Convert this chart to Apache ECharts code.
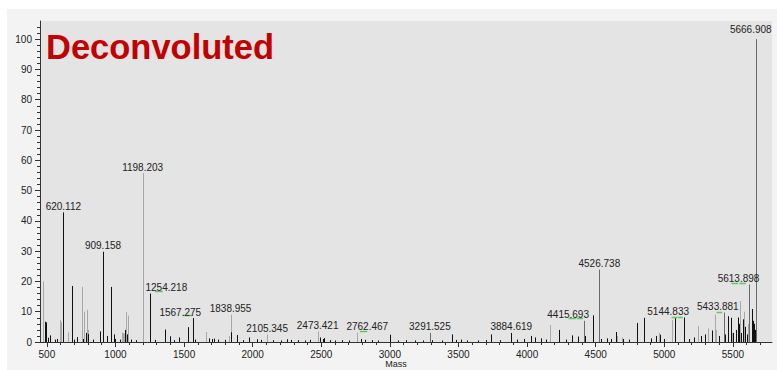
<!DOCTYPE html>
<html>
<head>
<meta charset="utf-8">
<script src="https://cdn.jsdelivr.net/npm/echarts@6/dist/echarts.min.js"></script>
<style>
html,body{margin:0;padding:0;background:#ffffff;}
#chart{width:777px;height:370px;}
</style>
</head>
<body>
<div id="chart"></div>
<script>
// ---- data ----
var titleText = 'Deconvoluted';
var xAxisName = 'Mass';
var xTickLabels = [500, 1000, 1500, 2000, 2500, 3000, 3500, 4000, 4500, 5000, 5500];
var yTickLabels = [0, 10, 20, 30, 40, 50, 60, 70, 80, 90, 100];

var blackMass = [488, 495, 510, 524, 560, 575, 620.112, 680, 700, 723, 765, 784, 798, 835, 886, 909.158, 940, 969, 990, 1000, 1030, 1071, 1086, 1110, 1150, 1254.218, 1290, 1358, 1363, 1397, 1430, 1462, 1530, 1567.275, 1580, 1680, 1700, 1720, 1750, 1800, 1841, 1883, 1930, 1972, 2030, 2060, 2150, 2210, 2250, 2280, 2330, 2380, 2420, 2490, 2510, 2520, 2560, 2600, 2650, 2700, 2790, 2820, 2870, 2910, 3000, 3060, 3120, 3180, 3240, 3310, 3380, 3450, 3480, 3520, 3560, 3640, 3700, 3734, 3800, 3884.619, 3930, 3980, 4025, 4060, 4100, 4140, 4234, 4280, 4330, 4370, 4420, 4482, 4540, 4580, 4610, 4645, 4700, 4740, 4798, 4851, 4900, 4940, 4970, 5000, 5080, 5144.833, 5180, 5220, 5270, 5300, 5349, 5400, 5440, 5463, 5485, 5500, 5520, 5536, 5545, 5560, 5572, 5590, 5600, 5620, 5636, 5645, 5651, 5660];
var blackInt  = [6.7, 6.5, 1.4, 2.2, 0.8, 1.0, 42.8, 18.5, 0.8, 1.6, 1.0, 3.0, 2.6, 0.8, 3.5, 29.8, 2.0, 18.2, 2.5, 1.0, 0.8, 4.0, 2.5, 0.8, 0.6, 16.0, 0.7, 2.0, 4.1, 1.9, 0.6, 1.5, 4.9, 7.9, 0.8, 1.2, 1.0, 1.1, 0.8, 0.7, 3.2, 2.3, 0.6, 1.5, 0.9, 0.7, 0.6, 0.5, 0.9, 0.7, 0.6, 0.5, 0.7, 1.5, 1.0, 1.3, 0.6, 0.5, 0.6, 0.5, 1.0, 0.7, 0.6, 0.5, 2.4, 0.5, 0.6, 0.5, 0.5, 0.6, 0.5, 2.5, 0.7, 0.8, 0.5, 0.5, 0.6, 2.5, 0.6, 3.0, 0.8, 1.0, 2.0, 1.5, 1.2, 0.8, 4.0, 0.8, 2.2, 1.8, 2.0, 8.8, 1.0, 1.2, 1.0, 3.3, 1.0, 0.8, 6.3, 8.0, 1.2, 2.0, 2.4, 1.0, 7.9, 8.1, 1.0, 1.5, 2.0, 2.5, 3.8, 2.0, 2.5, 8.5, 8.0, 3.0, 4.0, 8.1, 6.0, 3.0, 7.5, 5.0, 2.5, 3.5, 10.9, 7.0, 6.0, 4.0];

var grayMass = [473, 597, 603, 651, 755, 772, 791, 801, 1045, 1055, 1062, 1078, 1093, 1198.203, 1657, 1826, 1838.955, 2105.345, 2473.421, 2762.467, 4166, 4655, 4690, 4960, 5056, 5247, 5315, 5369, 5380, 5490, 5551, 5580, 5610];
var grayInt  = [20.0, 7.2, 6.5, 3.2, 18.2, 10.0, 10.6, 4.0, 3.0, 3.0, 2.8, 9.9, 8.7, 55.8, 3.3, 2.0, 9.0, 2.4, 3.5, 3.1, 5.6, 2.0, 1.5, 3.0, 7.2, 5.3, 4.5, 9.0, 4.0, 3.0, 13.5, 10.0, 6.0];

var darkMass = [3291.525, 4415.693, 4526.738, 5433.881, 5613.898, 5666.908];
var darkInt  = [3.0, 7.0, 23.9, 9.7, 19.0, 100.0];

var labelMass = [620.112, 909.158, 1198.203, 1254.218, 1567.275, 1838.955, 2105.345, 2473.421, 2762.467, 3291.525, 3884.619, 4415.693, 4526.738, 5144.833, 5433.881, 5613.898, 5666.908];

// isotope markers: [mass start, mass end, intensity]
var isoStart = [1287, 1491, 2782, 4302, 4362, 5053, 5099, 5381, 5490, 5546];
var isoEnd   = [1345, 1560, 2835, 4355, 4409, 5097, 5136, 5422, 5538, 5594];
var isoInt   = [16.8, 8.8, 3.5, 7.9, 7.9, 8.4, 8.4, 10.0, 19.5, 19.5];

// ---- build ----
var FONT = '"Liberation Sans", Arial, sans-serif';
function pairs(m, v){ return m.map(function(x,i){ return [x, v[i]]; }); }
var allMass = blackMass.concat(grayMass, darkMass);
var allInt = blackInt.concat(grayInt, darkInt);
function intensityOf(m){ return allInt[allMass.indexOf(m)]; }

// label pixel shifts (styling only)
var labelShift = {'1254.218':[16,0], '1567.275':[-13,0], '2762.467':[10,0], '4415.693':[-16,0], '5144.833':[-16,0], '5433.881':[-6,0], '5613.898':[-10,0], '5666.908':[-5,-4]};

function stickSeries(data, color){
  return {
    type:'custom', xAxisIndex:0, yAxisIndex:0, data:data, silent:true,
    renderItem:function(params, api){
      var p0 = api.coord([api.value(0), 0]);
      var p1 = api.coord([api.value(0), api.value(1)]);
      var x = Math.round(p0[0]) + 0.5;
      return {type:'line', shape:{x1:x, y1:p0[1], x2:x, y2:p1[1]}, style:{stroke:color, lineWidth:1}};
    }
  };
}

var minorX = []; for (var v = 500; v <= 5700; v += 100) minorX.push(v);
var minorY = []; for (var w = 2; w <= 104; w += 2) minorY.push(w);

var labelData = labelMass.map(function(m){ return [m, intensityOf(m)]; });
var isoData = isoStart.map(function(s,i){ return [s, isoEnd[i], isoInt[i]]; });

var chart = echarts.init(document.getElementById('chart'), null, {renderer:'svg'});
chart.setOption({
  backgroundColor:'#ffffff',
  animation:false,
  graphic:[{type:'rect', left:7, top:9, shape:{width:770, height:361}, style:{fill:'#f3f3f3'}, z:-10, silent:true}],
  title:{text:titleText, left:46, top:29, padding:0, textStyle:{color:'#c20000', fontWeight:'bold', fontSize:34.5, fontFamily:FONT}},
  grid:{left:40, top:21, right:5, bottom:28, show:true, backgroundColor:'#e4e4e4', borderWidth:0, outerBoundsMode:'none', containLabel:false},
  xAxis:[{
    type:'value', min:450, max:5785, position:'bottom',
    name:xAxisName, nameLocation:'middle', nameGap:17.5, nameMoveOverlap:false,
    nameTextStyle:{color:'#222', fontSize:9, lineHeight:9, fontFamily:FONT, padding:[0,20,0,0]},
    axisLine:{show:true, lineStyle:{color:'#333', width:1}},
    axisTick:{show:true, customValues:xTickLabels, length:5, lineStyle:{color:'#333'}},
    axisLabel:{customValues:xTickLabels, color:'#222', fontSize:10, lineHeight:10, fontFamily:FONT, margin:7, formatter:function(v){ return String(v); }},
    splitLine:{show:false}
  },{
    type:'value', min:450, max:5785, position:'bottom',
    axisLine:{show:false},
    axisTick:{show:true, customValues:minorX, length:3, lineStyle:{color:'#333'}},
    axisLabel:{show:false}, splitLine:{show:false}
  }],
  yAxis:[{
    type:'value', min:0, max:106, position:'left',
    axisLine:{show:true, lineStyle:{color:'#333', width:1}},
    axisTick:{show:true, customValues:yTickLabels, length:5, lineStyle:{color:'#333'}},
    axisLabel:{customValues:yTickLabels, color:'#222', fontSize:10, fontFamily:FONT, margin:8, formatter:function(v){ return String(v); }},
    splitLine:{show:false}
  },{
    type:'value', min:0, max:106, position:'left', offset:0,
    axisLine:{show:false},
    axisTick:{show:true, customValues:minorY, length:3, lineStyle:{color:'#333'}},
    axisLabel:{show:false}, splitLine:{show:false}
  }],
  series:[
    stickSeries(pairs(grayMass, grayInt), '#a8a8a8'),
    stickSeries(pairs(blackMass, blackInt), '#111111'),
    stickSeries(pairs(darkMass, darkInt), '#6a6a6a'),
    {
      type:'custom', xAxisIndex:0, yAxisIndex:0, data:isoData, silent:true,
      renderItem:function(params, api){
        var a = api.coord([api.value(0), api.value(2)]);
        var b = api.coord([api.value(1), api.value(2)]);
        var y = Math.round(a[1]) + 0.5;
        return {type:'line', shape:{x1:a[0], y1:y, x2:b[0], y2:y}, style:{stroke:'#5ccc5c', lineWidth:1.5}};
      }
    },
    {
      type:'custom', xAxisIndex:0, yAxisIndex:0, data:labelData, silent:true, clip:false,
      renderItem:function(params, api){
        var m = api.value(0);
        var key = m.toFixed(3);
        var p = api.coord([m, api.value(1)]);
        var s = labelShift[key] || [0,0];
        return {type:'text', x:p[0] + s[0], y:p[1] - 1 + s[1],
          style:{text:key, align:'center', verticalAlign:'bottom', fill:'#222', font:'10px ' + FONT}};
      }
    }
  ]
});
</script>
</body>
</html>
